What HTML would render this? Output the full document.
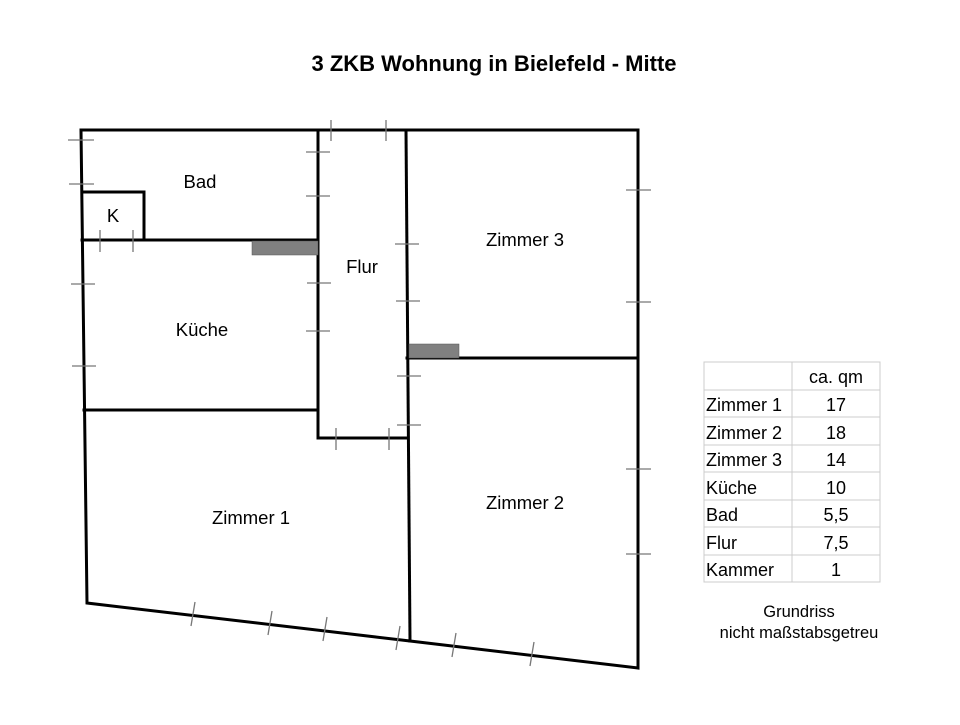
<!DOCTYPE html>
<html><head><meta charset="utf-8"><style>
body{margin:0;background:#fff;width:960px;height:720px;overflow:hidden;font-family:"Liberation Sans",sans-serif}
</style></head><body>
<svg width="960" height="720" xmlns="http://www.w3.org/2000/svg">
<text x="494" y="71" text-anchor="middle" font-family="Liberation Sans" font-weight="bold" font-size="22">3 ZKB Wohnung in Bielefeld - Mitte</text>
<g stroke="#000" stroke-width="3" fill="none" stroke-linecap="square">
<polyline points="81,130 638,130 638,668 410,641 87,603 81,130"/>
<line x1="318" y1="130" x2="318" y2="438"/>
<line x1="406" y1="130" x2="410" y2="641"/>
<line x1="318" y1="438" x2="408" y2="438"/>
<line x1="82" y1="240" x2="318" y2="240"/>
<polyline points="82,192 144,192 144,240"/>
<line x1="84" y1="410" x2="318" y2="410"/>
<line x1="407" y1="358" x2="638" y2="358"/>
</g>
<rect x="252" y="241" width="66" height="14" fill="#808080" stroke="#555" stroke-width="0.5"/>
<rect x="409" y="344" width="50" height="14" fill="#808080" stroke="#555" stroke-width="0.5"/>
<g stroke="#777" stroke-width="1.3">
<line x1="68" y1="140" x2="94" y2="140"/><line x1="69" y1="184" x2="94" y2="184"/>
<line x1="71" y1="284" x2="95" y2="284"/><line x1="72" y1="366" x2="96" y2="366"/>
<line x1="100" y1="230" x2="100" y2="252"/><line x1="133" y1="230" x2="133" y2="252"/>
<line x1="331" y1="120" x2="331" y2="141"/><line x1="386" y1="120" x2="386" y2="141"/>
<line x1="306" y1="152" x2="330" y2="152"/><line x1="306" y1="196" x2="330" y2="196"/>
<line x1="307" y1="283" x2="331" y2="283"/><line x1="306" y1="331" x2="330" y2="331"/>
<line x1="395" y1="244" x2="419" y2="244"/><line x1="396" y1="301" x2="420" y2="301"/>
<line x1="397" y1="376" x2="421" y2="376"/><line x1="397" y1="425" x2="421" y2="425"/>
<line x1="336" y1="428" x2="336" y2="450"/><line x1="389" y1="428" x2="389" y2="450"/>
<line x1="626" y1="190" x2="651" y2="190"/><line x1="626" y1="302" x2="651" y2="302"/>
<line x1="626" y1="469" x2="651" y2="469"/><line x1="626" y1="554" x2="651" y2="554"/>
<line x1="195" y1="602" x2="191" y2="626"/><line x1="272" y1="611" x2="268" y2="635"/>
<line x1="327" y1="617" x2="323" y2="641"/><line x1="400" y1="626" x2="396" y2="650"/>
<line x1="456" y1="633" x2="452" y2="657"/><line x1="534" y1="642" x2="530" y2="666"/>
</g>
<g font-family="Liberation Sans" font-size="18.5" text-anchor="middle" fill="#000">
<text x="200" y="188">Bad</text>
<text x="113" y="222">K</text>
<text x="202" y="336">Küche</text>
<text x="362" y="273">Flur</text>
<text x="525" y="246">Zimmer 3</text>
<text x="251" y="524">Zimmer 1</text>
<text x="525" y="509">Zimmer 2</text>
</g>
<g stroke="#ccc" stroke-width="1" fill="none">
<rect x="704" y="362" width="176" height="220"/>
<line x1="792" y1="362" x2="792" y2="582"/>
<line x1="704" y1="390" x2="880" y2="390"/><line x1="704" y1="417" x2="880" y2="417"/>
<line x1="704" y1="445" x2="880" y2="445"/><line x1="704" y1="472" x2="880" y2="472"/>
<line x1="704" y1="500" x2="880" y2="500"/><line x1="704" y1="527" x2="880" y2="527"/>
<line x1="704" y1="555" x2="880" y2="555"/>
</g>
<g font-family="Liberation Sans" font-size="18" fill="#000">
<text x="836" y="383" text-anchor="middle">ca. qm</text>
<text x="706" y="411">Zimmer 1</text><text x="836" y="411" text-anchor="middle">17</text>
<text x="706" y="439">Zimmer 2</text><text x="836" y="439" text-anchor="middle">18</text>
<text x="706" y="466">Zimmer 3</text><text x="836" y="466" text-anchor="middle">14</text>
<text x="706" y="494">Küche</text><text x="836" y="494" text-anchor="middle">10</text>
<text x="706" y="521">Bad</text><text x="836" y="521" text-anchor="middle">5,5</text>
<text x="706" y="549">Flur</text><text x="836" y="549" text-anchor="middle">7,5</text>
<text x="706" y="576">Kammer</text><text x="836" y="576" text-anchor="middle">1</text>
</g>
<g font-family="Liberation Sans" font-size="16.5" fill="#000" text-anchor="middle">
<text x="799" y="617">Grundriss</text>
<text x="799" y="638">nicht maßstabsgetreu</text>
</g>
</svg>
</body></html>
